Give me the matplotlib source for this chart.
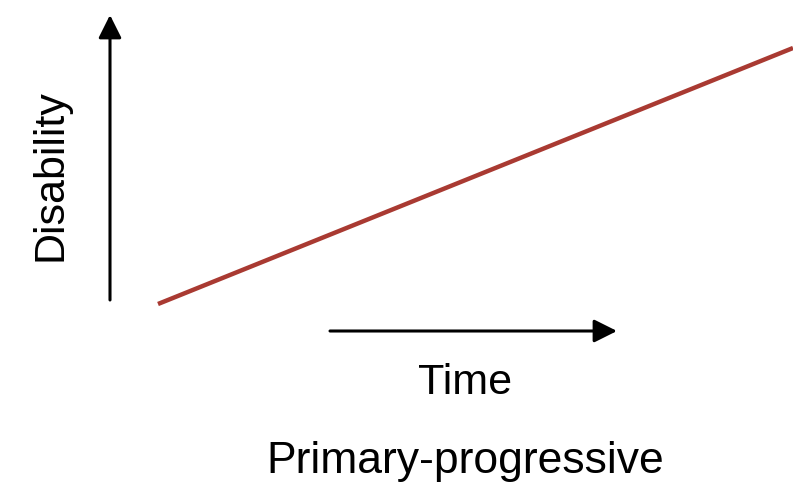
import matplotlib
matplotlib.use("Agg")
import matplotlib.pyplot as plt

# Schematic data (pixel-like coordinates of the figure canvas)
time_pts = [158, 793]
disability_pts = [304, 48]
title = "Primary-progressive"
xlabel = "Time"
ylabel = "Disability"

fig = plt.figure(figsize=(7.93, 4.99), dpi=100)
ax = fig.add_axes([0, 0, 1, 1])
ax.set_xlim(0, 793)
ax.set_ylim(499, 0)
ax.axis("off")

ax.plot(time_pts, disability_pts, color="#A93A32", lw=3.2, solid_capstyle="butt")

arrow_kw = dict(arrowstyle="-|>,head_length=1.0,head_width=0.5", color="black", lw=2.2,
                shrinkA=0, shrinkB=0, mutation_scale=14)
ax.annotate("", xy=(110, 15), xytext=(110, 300), arrowprops=arrow_kw)
ax.annotate("", xy=(617, 331), xytext=(330, 331), arrowprops=arrow_kw)

font = "Liberation Sans"
ax.text(50, 175, ylabel, rotation=90, ha="center", va="center", fontsize=31, family=font)
ax.text(465, 383, xlabel, ha="center", va="center", fontsize=31, family=font)
ax.text(465, 462, title, ha="center", va="center", fontsize=32, family=font)

fig.savefig("out.png", dpi=100)
